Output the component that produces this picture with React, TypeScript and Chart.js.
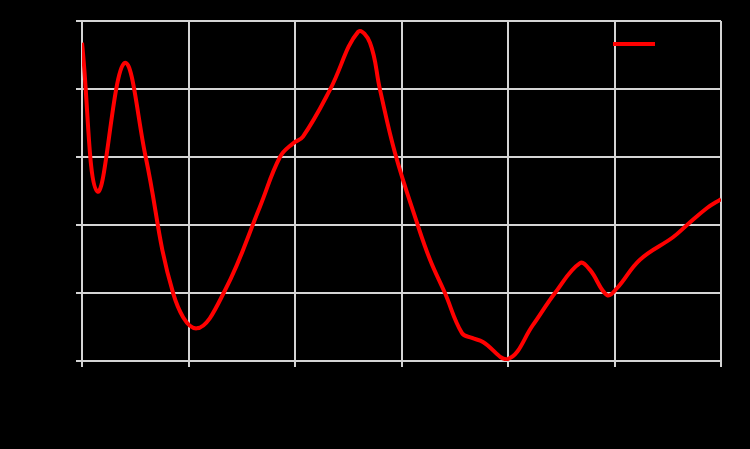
import React, { useEffect, useRef } from "react";
import { Chart, registerables } from "chart.js";

Chart.register(...registerables);

const xValues = [0, 0.147, 0.397, 0.598, 0.857, 1.077, 1.343, 1.671, 1.859, 1.981, 2.075, 2.329, 2.592, 2.704, 2.798, 2.939, 3.146, 3.268, 3.408, 3.568, 3.662, 3.765, 4.0, 4.235, 4.441, 4.676, 4.77, 4.93, 5.023, 5.239, 5.549, 5.681, 5.869, 6.0];
const yValues = [4.68, 2.49, 4.38, 3.0, 0.99, 0.48, 1.04, 2.27, 3.0, 3.2, 3.3, 3.99, 4.84, 4.68, 3.99, 3.06, 2.03, 1.49, 1.0, 0.41, 0.34, 0.28, 0.03, 0.53, 1.0, 1.44, 1.34, 0.97, 1.07, 1.49, 1.82, 2.0, 2.25, 2.38];
const seriesLabel = "Series 1";
const xTicks = [0, 1, 2, 3, 4, 5, 6];
const yTicks = [0, 1, 2, 3, 4, 5];

const legendPlugin = {
  id: "insideLegend",
  afterDraw(chart: any) {
    const ctx = chart.ctx;
    ctx.save();
    ctx.strokeStyle = "#ff0000";
    ctx.lineWidth = 4;
    ctx.beginPath();
    ctx.moveTo(613, 44);
    ctx.lineTo(655, 44);
    ctx.stroke();
    ctx.fillStyle = "#000";
    ctx.font = "14px 'Liberation Sans', Arial, sans-serif";
    ctx.textBaseline = "middle";
    ctx.fillText(seriesLabel, 662, 44);
    ctx.restore();
  },
};

export default function App() {
  const ref = useRef<HTMLCanvasElement | null>(null);
  useEffect(() => {
    document.body.style.margin = "0";
    document.body.style.background = "#000";
    const canvas = ref.current!;
    const chart = new Chart(canvas, {
      type: "line",
      data: {
        datasets: [
          {
            label: seriesLabel,
            data: xValues.map((x, i) => ({ x, y: yValues[i] })),
            borderColor: "#ff0000",
            borderWidth: 4,
            pointRadius: 0,
            tension: 0.4,
            fill: false,
          },
        ],
      },
      options: {
        animation: false,
        responsive: false,
        maintainAspectRatio: false,
        layout: { padding: { top: 21, right: 29, left: 0, bottom: 0 } },
        plugins: { legend: { display: false }, tooltip: { enabled: false } },
        scales: {
          x: {
            type: "linear",
            min: 0,
            max: 6,
            afterBuildTicks: (s: any) => {
              s.ticks = xTicks.map((v) => ({ value: v }));
            },
            afterFit: (s: any) => {
              s.height = 88;
            },
            grid: { color: "#d4d4d4", lineWidth: 2, tickLength: 6 },
            border: { color: "#d4d4d4", width: 2 },
            ticks: { color: "#000", font: { size: 14 } },
          },
          y: {
            min: 0,
            max: 5,
            afterBuildTicks: (s: any) => {
              s.ticks = yTicks.map((v) => ({ value: v }));
            },
            afterFit: (s: any) => {
              s.width = 82;
            },
            grid: { color: "#d4d4d4", lineWidth: 2, tickLength: 6 },
            border: { color: "#d4d4d4", width: 2 },
            ticks: { color: "#000", font: { size: 14 } },
          },
        },
      },
      plugins: [legendPlugin],
    });
    return () => chart.destroy();
  }, []);
  return (
    <div style={{ width: 750, height: 449, background: "#000" }}>
      <canvas ref={ref} width={750} height={449} style={{ display: "block" }} />
    </div>
  );
}
